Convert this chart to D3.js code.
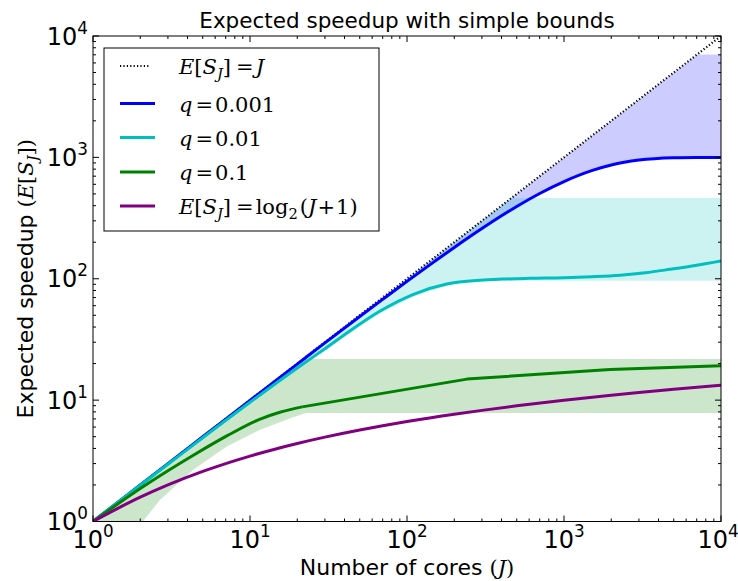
<!DOCTYPE html>
<html>
<head>
<meta charset="utf-8">
<script src="https://cdn.jsdelivr.net/npm/d3@7"></script>
<style>
  body { margin: 0; background: #fff; }
  svg { display: block; }
</style>
</head>
<body>
<svg id="chart" width="738" height="581"></svg>
<script>
// ---- data -------------------------------------------------------------
const decades = [0, 1, 2, 3, 4];               // tick labels 10^k on both axes

const identJ = [1, 10000];
const identS = [1, 10000];

const blueJ = [1, 2, 3, 5, 10, 20, 30, 50, 70, 100, 150, 200, 300, 400, 500, 700, 1000, 1500, 2000, 3000, 5000, 7000, 10000];
const blueS = [1, 2, 3, 4.99, 9.96, 19.8, 29.6, 48.8, 67.6, 95.2, 139, 181, 259, 330, 394, 504, 632, 777, 865, 950, 993, 999, 1000];

const cyanJ = [1, 2, 3, 5, 10, 20, 30, 43, 67, 110, 179, 292, 400, 607, 1000, 1500, 2275, 3300, 4730, 7000, 10000];
const cyanS = [1, 1.99, 2.96, 4.9, 9.6, 18.4, 26.5, 37, 54, 74.5, 90.5, 97.3, 99.3, 100.8, 102, 104, 107, 112, 119.5, 129, 140];

const greenJ = [1, 2, 3, 4.33, 7.07, 11.5, 15.5, 21.5, 241, 1963, 10000];
const greenS = [1, 1.87, 2.62, 3.5, 5.05, 6.95, 7.95, 8.8, 14.9, 17.9, 19.2];

const purpleJ = [1, 2, 3, 5, 7, 10, 15, 20, 30, 50, 70, 100, 200, 300, 500, 1000, 2000, 3000, 5000, 10000];
const purpleS = [1, 1.585, 2, 2.585, 3, 3.459, 4, 4.392, 4.954, 5.672, 6.150, 6.658, 7.651, 8.234, 8.969, 9.967, 10.967, 11.551, 12.288, 13.288];

// shaded bound regions
const blueBandUpJ = [1, 7050, 10000];
const blueBandUpS = [1, 7050, 7050];
const cyanBandUpJ = [1, 462, 10000];
const cyanBandUpS = [1, 462, 462];
const cyanBandLoJ = [1, 10, 20, 43, 67, 110, 179, 250, 10000];
const cyanBandLoS = [1, 9.3, 17.8, 35.5, 51.5, 71.5, 87.5, 96.3, 96.3];
const greenBandUpJ = [1, 21.8, 10000];
const greenBandUpS = [1, 21.8, 21.8];
const greenBandLoJ = [1, 2.08, 2.66, 4.33, 7.07, 11.5, 18.8, 22.8, 10000];
const greenBandLoS = [1, 1, 1.5, 2.66, 4.13, 5.67, 7.21, 7.85, 7.85];

const COL = { blue: "#0000ff", cyan: "#00bfbf", green: "#008000", purple: "#800080" };

// ---- layout -------------------------------------------------------------
const svg = d3.select("#chart");
const X0 = 93, X1 = 721, Y0 = 36, Y1 = 521.5;
const x = d3.scaleLog().domain([1, 1e4]).range([X0, X1]);
const y = d3.scaleLog().domain([1, 1e4]).range([Y1, Y0]);
const SANS = "DejaVu Sans, Bitstream Vera Sans, sans-serif";
const SERIF = "DejaVu Serif, serif";

const zip = (js, ss) => js.map((j, i) => [j, ss[i]]);
const line = d3.line().x(d => x(d[0])).y(d => y(d[1]));

svg.append("clipPath").attr("id", "plotClip")
  .append("rect").attr("x", X0).attr("y", Y0).attr("width", X1 - X0).attr("height", Y1 - Y0);

const plot = svg.append("g").attr("clip-path", "url(#plotClip)");

// bands: upper edge forward, lower edge back
function band(upJ, upS, loJ, loS, color) {
  const pts = zip(upJ, upS).concat(zip(loJ, loS).reverse());
  plot.append("path")
    .attr("d", line(pts) + "Z")
    .attr("fill", color).attr("fill-opacity", 0.2).attr("stroke", "none");
}
band(blueBandUpJ, blueBandUpS, blueJ, blueS, COL.blue);
band(cyanBandUpJ, cyanBandUpS, cyanBandLoJ, cyanBandLoS, COL.cyan);
band(greenBandUpJ, greenBandUpS, greenBandLoJ, greenBandLoS, COL.green);

const curve = d3.line().curve(d3.curveMonotoneX)
  .x(d => x(d[0])).y(d => y(d[1]));

plot.append("path").attr("d", line(zip(identJ, identS)))
  .attr("fill", "none").attr("stroke", "#000").attr("stroke-width", 2.2)
  .attr("stroke-dasharray", "1.2,2.2");

function drawCurve(js, ss, color, linear) {
  plot.append("path").attr("d", (linear ? line : curve)(zip(js, ss)))
    .attr("fill", "none").attr("stroke", color).attr("stroke-width", 3)
    .attr("stroke-linejoin", "round");
}
drawCurve(blueJ, blueS, COL.blue);
drawCurve(cyanJ, cyanS, COL.cyan);
// smooth rise, then straight segments between the sparse large-J points
drawCurve(greenJ.slice(0, 8), greenS.slice(0, 8), COL.green);
drawCurve(greenJ.slice(7), greenS.slice(7), COL.green, true);
drawCurve(purpleJ, purpleS, COL.purple);

// ---- frame and ticks (inward, all four sides) ------------------------------
const frame = svg.append("g");
frame.append("rect").attr("x", X0).attr("y", Y0).attr("width", X1 - X0).attr("height", Y1 - Y0)
  .attr("fill", "none").attr("stroke", "#000").attr("stroke-width", 1);

const majors = decades.map(k => Math.pow(10, k));
const minors = [];
decades.slice(0, -1).forEach(k => { for (let m = 2; m <= 9; m++) minors.push(m * Math.pow(10, k)); });

function ticks(vals, len) {
  vals.forEach(v => {
    const px = x(v), py = y(v);
    frame.append("line").attr("x1", px).attr("x2", px).attr("y1", Y1).attr("y2", Y1 - len);
    frame.append("line").attr("x1", px).attr("x2", px).attr("y1", Y0).attr("y2", Y0 + len);
    frame.append("line").attr("y1", py).attr("y2", py).attr("x1", X0).attr("x2", X0 + len);
    frame.append("line").attr("y1", py).attr("y2", py).attr("x1", X1).attr("x2", X1 - len);
  });
}
ticks(majors, 6);
ticks(minors, 3);
frame.selectAll("line").attr("stroke", "#000").attr("stroke-width", 1);

// tick labels 10^k
const TICK_FS = 24;
function powLabel(g, k, px, py, anchor) {
  const t = g.append("text").attr("x", px).attr("y", py)
    .attr("font-family", SANS).attr("font-size", TICK_FS).attr("text-anchor", anchor).attr("fill", "#000");
  t.append("tspan").text("10");
  t.append("tspan").attr("font-size", TICK_FS * 0.7).attr("dy", -TICK_FS * 0.45).text(k);
}
const labels = svg.append("g");
decades.forEach(k => powLabel(labels, k, x(Math.pow(10, k)) - (k === 4 ? 3 : 0), 548, "middle"));
decades.forEach(k => powLabel(labels, k, 88, y(Math.pow(10, k)) + 8.5, "end"));

// ---- mixed math text helper ---------------------------------------------------
// parts: {t, it (italic), sub, sans, dx}
function mathText(textSel, parts, size, mathSize) {
  const ms = mathSize || size;
  let cur = 0;
  parts.forEach(p => {
    const base = p.sans ? size : ms;
    const want = p.sub ? base * 0.25 : 0;
    const ts = textSel.append("tspan").text(p.t)
      .attr("font-family", p.sans ? SANS : SERIF)
      .attr("font-style", p.it ? "italic" : "normal")
      .attr("font-size", p.sub ? base * 0.7 : base);
    if (want !== cur) { ts.attr("dy", want - cur); cur = want; }
    if (p.dx) ts.attr("dx", p.dx);
  });
}

// title
svg.append("text").attr("x", (X0 + X1) / 2).attr("y", 28)
  .attr("text-anchor", "middle").attr("font-family", SANS).attr("font-size", 21.5)
  .text("Expected speedup with simple bounds");

// x label
const xl = svg.append("text").attr("x", (X0 + X1) / 2).attr("y", 575)
  .attr("text-anchor", "middle");
mathText(xl, [
  { t: "Number of cores ", sans: true },
  { t: "(" }, { t: "J", it: true }, { t: ")" }
], 22, 21);

// y label
const yl = svg.append("text").attr("transform", `translate(33,${(Y0 + Y1) / 2}) rotate(-90)`)
  .attr("text-anchor", "middle");
mathText(yl, [
  { t: "Expected speedup ", sans: true },
  { t: "(" }, { t: "E", it: true }, { t: "[" }, { t: "S", it: true },
  { t: "J", it: true, sub: true }, { t: "])" }
], 22, 21);

// ---- legend -----------------------------------------------------------------
const LEG_FS = 21;
const legend = svg.append("g");
legend.append("rect").attr("x", 104).attr("y", 48).attr("width", 275).attr("height", 183)
  .attr("fill", "#fff").attr("stroke", "#000").attr("stroke-width", 1);

const legendItems = [
  { color: "#000", dotted: true, yy: 66, parts: [
      { t: "E", it: true }, { t: "[" }, { t: "S", it: true }, { t: "J", it: true, sub: true },
      { t: "]" }, { t: "=", dx: 5 }, { t: "J", it: true, dx: 2 }] },
  { color: COL.blue, yy: 103.5, parts: [{ t: "q", it: true }, { t: "=", dx: 3 }, { t: "0.001", dx: 2 }] },
  { color: COL.cyan, yy: 137.5, parts: [{ t: "q", it: true }, { t: "=", dx: 3 }, { t: "0.01", dx: 2 }] },
  { color: COL.green, yy: 172, parts: [{ t: "q", it: true }, { t: "=", dx: 3 }, { t: "0.1", dx: 2 }] },
  { color: COL.purple, yy: 206, parts: [
      { t: "E", it: true }, { t: "[" }, { t: "S", it: true }, { t: "J", it: true, sub: true },
      { t: "]" }, { t: "=", dx: 5 }, { t: "log", dx: 2 }, { t: "2", sub: true },
      { t: "(", dx: 2 }, { t: "J", it: true }, { t: "+", dx: 1 }, { t: "1)", dx: 1 }] }
];
legendItems.forEach(it => {
  const ln = legend.append("line").attr("x1", 120).attr("x2", 155)
    .attr("y1", it.yy).attr("y2", it.yy).attr("stroke", it.color);
  if (it.dotted) ln.attr("stroke-width", 2.2).attr("stroke-dasharray", "1.2,2.2").attr("x2", 150);
  else ln.attr("stroke-width", 3);
  const t = legend.append("text").attr("x", 179).attr("y", it.yy + 8);
  mathText(t, it.parts, LEG_FS);
});
</script>
</body>
</html>
